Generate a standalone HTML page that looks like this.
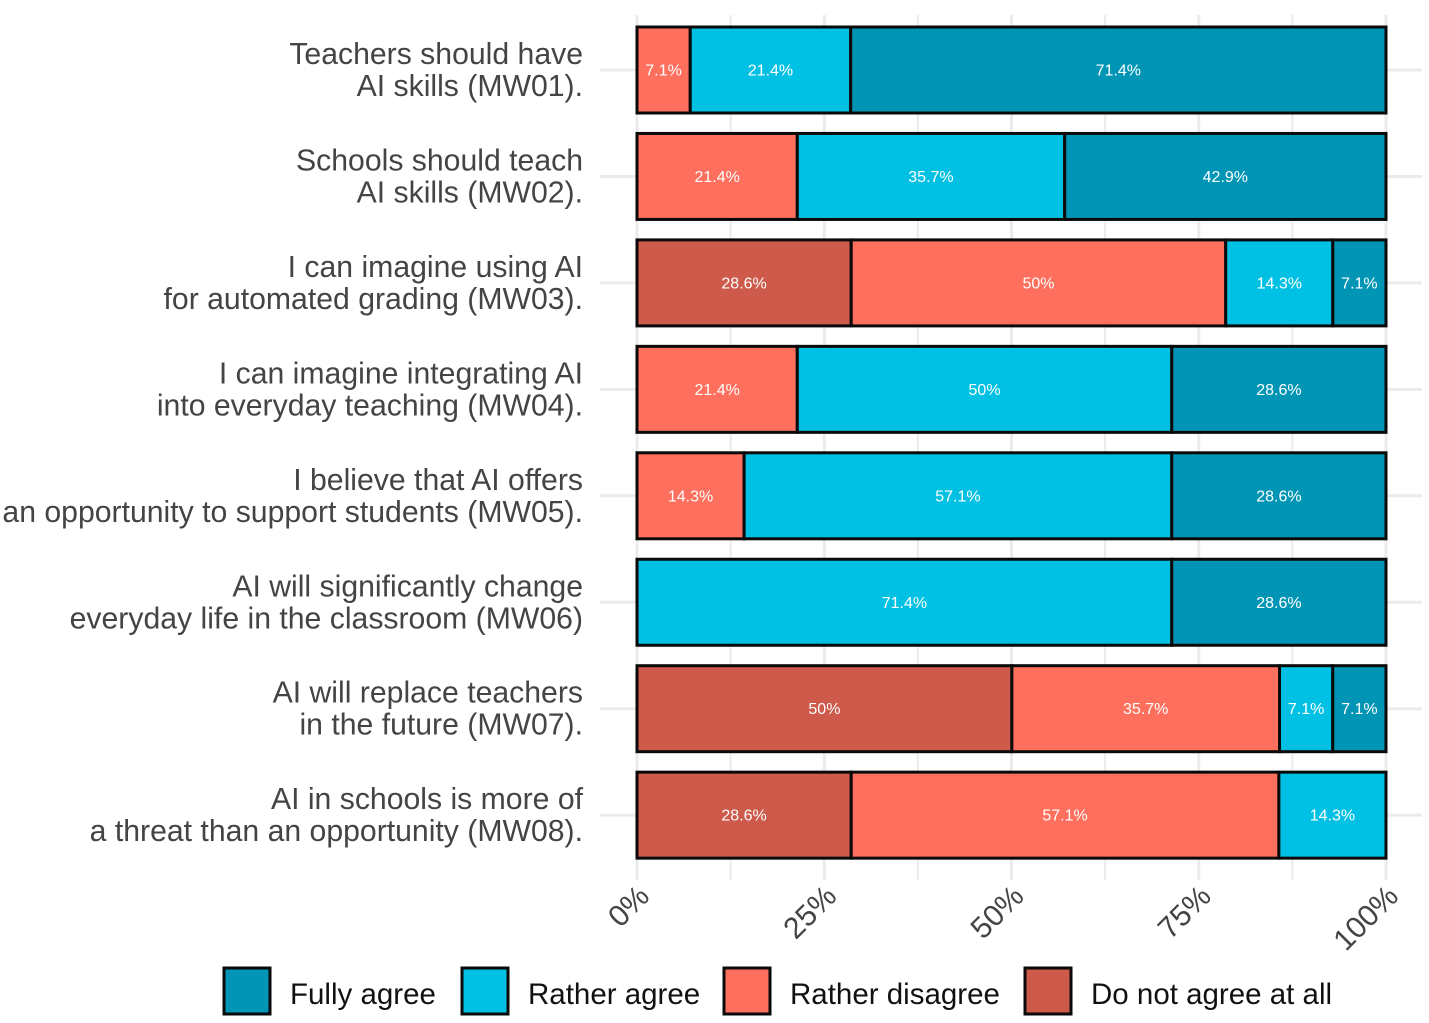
<!DOCTYPE html>
<html><head><meta charset="utf-8"><style>
html,body{margin:0;padding:0;background:#fff;}
svg{display:block;font-family:"Liberation Sans",sans-serif;}
</style></head><body>
<svg id="chart" width="1429" height="1023" viewBox="0 0 1429 1023" xmlns="http://www.w3.org/2000/svg">
<g id="grid"></g>
<g id="bars"></g>
<g id="ylabels"></g>
<g id="xlabels"></g>
<g id="legend"></g>
</svg>
<script>
const categoriesLine1 = ["Teachers should have","Schools should teach","I can imagine using AI","I can imagine integrating AI","I believe that AI offers","AI will significantly change","AI will replace teachers","AI in schools is more of"];
const categoriesLine2 = ["AI skills (MW01).","AI skills (MW02).","for automated grading (MW03).","into everyday teaching (MW04).","an opportunity to support students (MW05).","everyday life in the classroom (MW06)","in the future (MW07).","a threat than an opportunity (MW08)."];
const doNotAgree     = [0,0,28.6,0,0,0,50,28.6];
const ratherDisagree = [7.1,21.4,50,21.4,14.3,0,35.7,57.1];
const ratherAgree    = [21.4,35.7,14.3,50,57.1,71.4,7.1,14.3];
const fullyAgree     = [71.4,42.9,7.1,28.6,28.6,28.6,7.1,0];
const seriesNames = ["Do not agree at all","Rather disagree","Rather agree","Fully agree"];
const seriesColors = ["#cd5a4a","#ff6f5e","#00c0e3","#0095b5"];
const tickValues = [0,25,50,75,100];
const tickLabels = ["0%","25%","50%","75%","100%"];

const NS="http://www.w3.org/2000/svg";
const X0=637,X1=1386,Y0=70,DY=106.45,BH=86;
const xs=v=>X0+(X1-X0)*v/100;
const ys=i=>Y0+i*DY;
function mk(tag,attrs,parent){const e=document.createElementNS(NS,tag);for(const k in attrs)e.setAttribute(k,attrs[k]);parent.appendChild(e);return e;}
const grid=document.getElementById('grid'),bars=document.getElementById('bars'),yl=document.getElementById('ylabels'),xl=document.getElementById('xlabels'),lg=document.getElementById('legend');

for(let v=0;v<=100;v+=12.5){
  const l=mk('line',{x1:xs(v),x2:xs(v),y1:15,y2:880,stroke:'#ebebeb','stroke-width':(v%25===0)?3:2},grid);
  
  
}
categoriesLine1.forEach((c,i)=>{
  const l=mk('line',{x1:600,x2:1422,y1:ys(i),y2:ys(i),stroke:'#ebebeb','stroke-width':3},grid);
  
  
});
const series=[doNotAgree,ratherDisagree,ratherAgree,fullyAgree];
categoriesLine1.forEach((c,i)=>{
  const total=series.reduce((s,a)=>s+a[i],0);
  let cum=0;
  series.forEach((arr,k)=>{
    const v=arr[i];
    if(v<=0)return;
    const a=cum/total*100,b=(cum+v)/total*100;cum+=v;
    const r=mk('rect',{x:xs(a),y:ys(i)-BH/2,width:xs(b)-xs(a),height:BH,fill:seriesColors[k],stroke:'#0a0a0a','stroke-width':3},bars);
    
    
    const t=mk('text',{x:(xs(a)+xs(b))/2,y:ys(i)+5.5,'text-anchor':'middle','font-size':16,fill:'#fff'},bars);
    t.textContent=v+'%';
    
    
  });
  const t=mk('text',{x:583,'text-anchor':'end','font-size':30.2,fill:'#444'},yl);
  
  
  const s1=mk('tspan',{x:583,y:ys(i)-6},t);s1.textContent=c;
  const s2=mk('tspan',{x:583,y:ys(i)+26},t);s2.textContent=categoriesLine2[i];
});
tickValues.forEach((v,i)=>{
  const x=xs(v)+14,y=898;
  const t=mk('text',{x:x,y:y,'text-anchor':'end','font-size':30,fill:'#444',transform:`rotate(-45 ${x} ${y})`},xl);
  t.textContent=tickLabels[i];
  
  
});
const legendOrder=[3,2,1,0];
const lx=[224,462,724,1025];
legendOrder.forEach((k,j)=>{
  const r=mk('rect',{x:lx[j],y:968,width:46,height:46,fill:seriesColors[k],stroke:'#0a0a0a','stroke-width':3},lg);
  
  
  const t=mk('text',{x:lx[j]+66,y:1004,'font-size':29.5,fill:'#111'},lg);
  t.textContent=seriesNames[k];
  
  
});
</script>
</body></html>
